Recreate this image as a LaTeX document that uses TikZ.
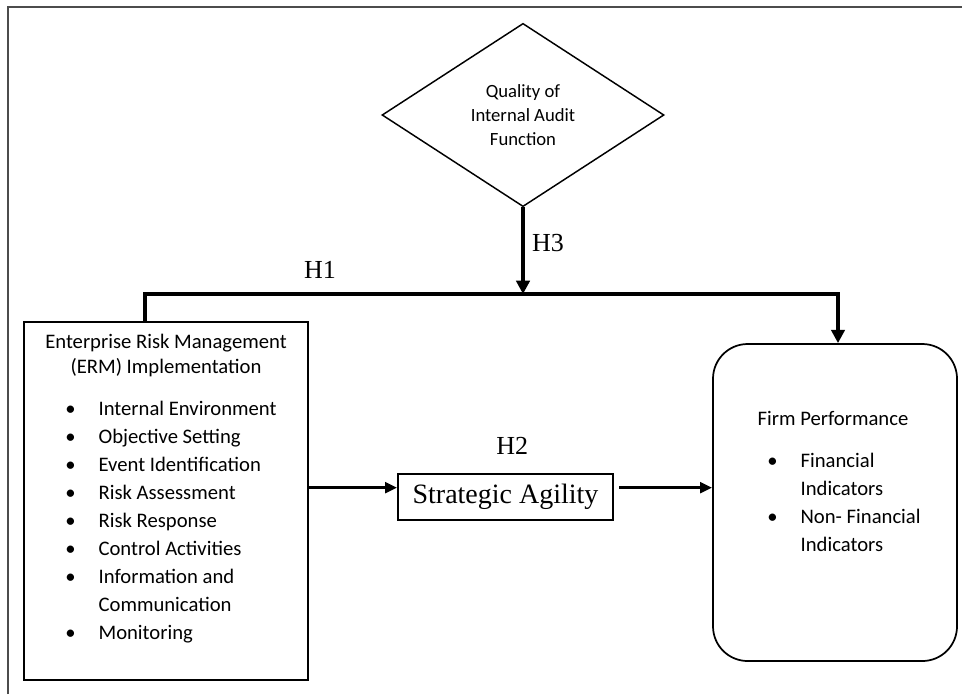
\documentclass[tikz,border=0pt]{standalone}
\usepackage{fontspec}
\setmainfont{Carlito}
\newfontfamily\hypfont{Liberation Serif}
\usetikzlibrary{shapes.geometric}
\usetikzlibrary{positioning}
\usetikzlibrary{arrows.meta}

\newcommand{\itm}[1]{\makebox[25pt][l]{\textbullet}#1}
\newcommand{\cont}[1]{\makebox[25pt][l]{}#1}

\begin{document}
\begin{tikzpicture}[x=0.75pt,y=-0.75pt,
  box/.style={draw,line width=1.3pt,inner sep=0pt},
  txt/.style={inner sep=0pt,font=\fontsize{15.5}{21}\selectfont},
  hyp/.style={inner sep=0pt,font=\hypfont\fontsize{19.5}{22}\selectfont},
  thick_link/.style={line width=3pt,-{Triangle[length=10pt,width=10pt]}},
  thin_link/.style={line width=2.2pt,-{Triangle[length=9pt,width=8pt]}}]

\useasboundingbox (0,0) rectangle (962,694);

% frame
\draw [black!70, line width=1.1pt] (8,694) -- (8,7) -- (962,7);

% moderator
\node (iaf) [diamond, draw, line width=1.1pt, minimum width=211.5pt, minimum height=136.5pt, align=center, font=\fontsize{14}{18}\selectfont] at (523,115) {Quality of\\Internal Audit\\Function};

% ERM box
\node (erm) [box, minimum width=213pt, minimum height=268.5pt] at (166,501) {};
\node (erm_title) [txt, anchor=north, align=center, font=\fontsize{15.5}{18.75}\selectfont] at (166,334) {Enterprise Risk Management\\(ERM) Implementation};
\node (erm_list) [txt, anchor=north west, align=left] at (65,401) {
\itm{Internal Environment}\\
\itm{Objective Setting}\\
\itm{Event Identification}\\
\itm{Risk Assessment}\\
\itm{Risk Response}\\
\itm{Control Activities}\\
\itm{Information and}\\
\cont{Communication}\\
\itm{Monitoring}
};

% mediator
\node (agility) [box, minimum width=161.25pt, minimum height=34.5pt, font=\hypfont\fontsize{21}{24}\selectfont] at (505.5,497) {Strategic Agility};

% performance box
\node (perf) [box, rounded corners=26pt, minimum width=183pt, minimum height=237.75pt] at (835,502.5) {};
\node (perf_title) [txt, anchor=north] at (833,411) {Firm Performance};
\node (perf_list) [txt, anchor=north west, align=left] at (767,453) {
\itm{Financial}\\
\cont{Indicators}\\
\itm{Non- Financial}\\
\cont{Indicators}
};

% hypotheses
\coordinate (h1_left) at (145,294);
\coordinate (h1_right) at (838,294);
\draw [thick_link] (h1_left |- erm.north) -- (h1_left) -- (h1_right) -- (h1_right |- perf.north);
\draw [thick_link] (iaf.south) -- (iaf.south |- h1_left);
\draw [thin_link] ([yshift=7pt]agility.west -| erm.east) -- ([yshift=7pt]agility.west);
\draw [thin_link] ([xshift=4pt,yshift=7pt]agility.east) -- ([yshift=7pt]agility.east -| perf.west);

\node (h1) [hyp] at (320,270) {H1};
\node (h2) [hyp, above=14pt of agility, xshift=5pt] {H2};
\node (h3) [hyp] at (548,243) {H3};
\end{tikzpicture}
\end{document}
